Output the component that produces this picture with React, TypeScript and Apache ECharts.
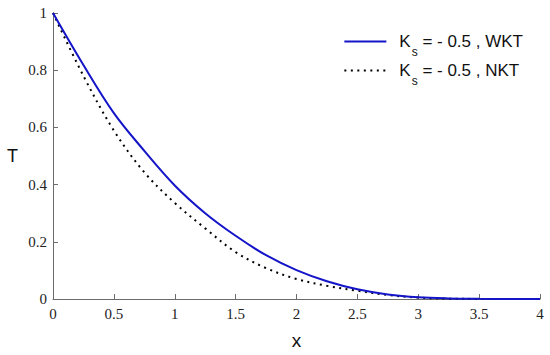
import React, { useEffect, useRef } from "react";
import * as echarts from "echarts";

const xValues = [0, 0.25, 0.5, 0.75, 1, 1.25, 1.5, 1.75, 2, 2.25, 2.5, 2.75, 3, 3.25, 3.5, 3.75, 4];
const wktValues = [1, 0.818, 0.65, 0.518, 0.397, 0.3, 0.221, 0.153, 0.101, 0.062, 0.034, 0.016, 0.006, 0.002, 0.0006, 0.0002, 0];
const nktValues = [1, 0.78, 0.589, 0.443, 0.336, 0.247, 0.164, 0.108, 0.07, 0.046, 0.029, 0.014, 0.005, 0.0012, 0.0003, 0.0001, 0];
const seriesNames = ["WKT", "NKT"];
const xTicks = { min: 0, max: 4, interval: 0.5 };
const yTicks = { min: 0, max: 1, interval: 0.2 };

export default function App() {
  const ref = useRef<HTMLDivElement>(null);
  useEffect(() => {
    if (!ref.current) return;
    const chart = echarts.init(ref.current, undefined, { renderer: "svg" });
    const axisLine = { show: true, lineStyle: { color: "#6b6b6b", width: 1 } };
    const tickLabel = { fontFamily: "Liberation Serif", fontSize: 15, color: "#222" };
    chart.setOption({
      animation: false,
      backgroundColor: "#fff",
      grid: { left: 53, right: 10, top: 13, bottom: 52.5, containLabel: false },
      legend: {
        right: 22,
        top: 28,
        orient: "vertical",
        itemWidth: 42,
        itemHeight: 12,
        itemGap: 4,
        data: seriesNames,
        itemStyle: { opacity: 0 },
        textStyle: {
          fontFamily: "Liberation Sans",
          fontSize: 16,
          color: "#111",
          rich: {
            k0: { fontFamily: "Liberation Sans", fontSize: 17, color: "#111", padding: [0, 0, 0, 8] },
            k: { fontFamily: "Liberation Sans", fontSize: 17, color: "#111" },
            s: { fontFamily: "Liberation Sans", fontSize: 12, color: "#111", padding: [21, 0, 0, 1] },
          },
        },
        formatter: (name: string) => `{k0|K}{s|s}{k| = - 0.5 , ${name}}`,
      },
      xAxis: {
        type: "value",
        min: xTicks.min,
        max: xTicks.max,
        interval: xTicks.interval,
        name: "x",
        nameLocation: "middle",
        nameGap: 32,
        nameMoveOverlap: false,
        nameTextStyle: { fontFamily: "Liberation Sans", fontSize: 19, color: "#111" },
        axisLine,
        axisTick: { show: true, inside: true, length: 5, lineStyle: { color: "#6b6b6b" } },
        axisLabel: { ...tickLabel, margin: 7 },
        splitLine: { show: false },
      },
      yAxis: {
        type: "value",
        min: yTicks.min,
        max: yTicks.max,
        interval: yTicks.interval,
        name: "T",
        nameLocation: "middle",
        nameRotate: 0,
        nameGap: 35,
        nameMoveOverlap: false,
        nameTextStyle: { fontFamily: "Liberation Sans", fontSize: 18, color: "#111" },
        axisLine,
        axisTick: { show: true, inside: true, length: 5, lineStyle: { color: "#6b6b6b" } },
        axisLabel: { ...tickLabel, margin: 6 },
        splitLine: { show: false },
      },
      series: [
        {
          name: seriesNames[0],
          type: "line",
          symbol: "none",
          smooth: 0.35,
          data: xValues.map((x, i) => [x, wktValues[i]]),
          lineStyle: { color: "#1414c8", width: 2 },
          itemStyle: { color: "#1414c8" },
          z: 3,
        },
        {
          name: seriesNames[1],
          type: "line",
          symbol: "none",
          smooth: 0.35,
          data: xValues.map((x, i) => [x, nktValues[i]]),
          lineStyle: { color: "#000", width: 2, type: [2, 4.5] },
          itemStyle: { color: "#000" },
          z: 2,
        },
      ],
    });
    return () => chart.dispose();
  }, []);
  return <div ref={ref} style={{ position: "fixed", left: 0, top: 0, width: 550, height: 355 }} />;
}
